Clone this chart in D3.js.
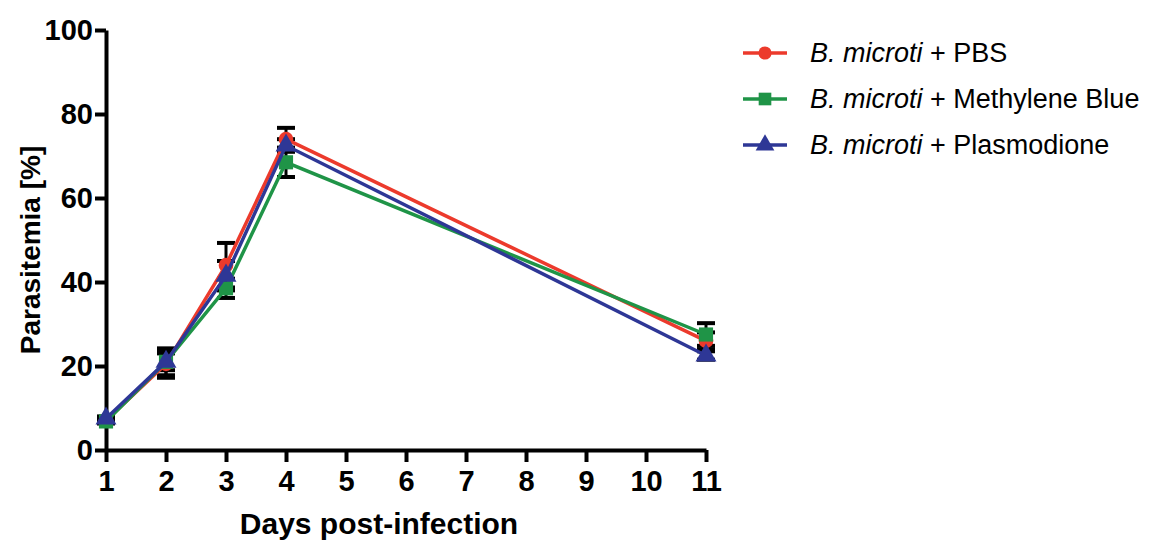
<!DOCTYPE html>
<html>
<head>
<meta charset="utf-8">
<script src="https://cdn.jsdelivr.net/npm/d3@7"></script>
<style>
  body { margin: 0; background: #fff; }
  svg { font-family: "Liberation Sans", Arial, sans-serif; }
</style>
</head>
<body>
<div id="chart"></div>
<script>
// Parasitemia over time, three treatment groups
const days = [1, 2, 3, 4, 11];
const xTicks = [1, 2, 3, 4, 5, 6, 7, 8, 9, 10, 11];
const yTicks = [0, 20, 40, 60, 80, 100];

const pbsMean = [7, 20.5, 44, 74, 26];
const pbsErr  = [0.5, 3.3, 5.3, 2.7, 2];
const mbMean  = [6.8, 21, 38.5, 68.5, 27.5];
const mbErr   = [0.5, 3.2, 2.3, 3.5, 2.7];
const plMean  = [7.5, 21, 41.5, 72.5, 22.5];
const plErr   = [0.5, 2, 3.5, 1.5, 1];

const seriesNames = ["PBS", "Methylene Blue", "Plasmodione"];
const seriesColors = ["#ec3a2c", "#1f9447", "#2e3796"];
const seriesSymbols = [d3.symbolCircle, d3.symbolSquare, d3.symbolTriangle];

const series = [
  {name: seriesNames[0], mean: pbsMean, err: pbsErr, color: seriesColors[0], sym: seriesSymbols[0], size: 170},
  {name: seriesNames[1], mean: mbMean, err: mbErr, color: seriesColors[1], sym: seriesSymbols[1], size: 200},
  {name: seriesNames[2], mean: plMean, err: plErr, color: seriesColors[2], sym: seriesSymbols[2], size: 190}
];

const W = 1151, H = 540;

const svg = d3.select("#chart")
  .append("svg")
  .attr("width", W)
  .attr("height", H);

const x = d3.scaleLinear().domain([1, 11]).range([106, 706]);
const y = d3.scaleLinear().domain([0, 100]).range([450, 30]);

// axes
const yAxis = svg.append("g")
  .attr("transform", "translate(106,0)")
  .call(d3.axisLeft(y).tickValues(yTicks).tickSize(11).tickSizeOuter(0).tickPadding(2));
yAxis.select(".domain").attr("stroke-width", 4).attr("stroke", "#000");
yAxis.selectAll(".tick line").attr("stroke-width", 4);
yAxis.selectAll("text")
  .style("font-size", "29px")
  .style("font-weight", "bold")
  .attr("fill", "#000");

const xAxis = svg.append("g")
  .attr("transform", "translate(0,450)")
  .call(d3.axisBottom(x).tickValues(xTicks).tickSize(12).tickSizeOuter(0).tickPadding(8));
xAxis.select(".domain").attr("stroke-width", 4).attr("stroke", "#000");
xAxis.selectAll(".tick line").attr("stroke-width", 4);
xAxis.selectAll("text")
  .style("font-size", "29px")
  .style("font-weight", "bold")
  .attr("fill", "#000");

// axis titles
svg.append("text")
  .attr("x", 379)
  .attr("y", 534)
  .attr("text-anchor", "middle")
  .style("font-size", "30px")
  .style("font-weight", "bold")
  .text("Days post-infection");

svg.append("text")
  .attr("transform", "translate(40,250) rotate(-90)")
  .attr("text-anchor", "middle")
  .style("font-size", "28px")
  .style("font-weight", "bold")
  .text("Parasitemia [%]");

// error bars
series.forEach(s => {
  const g = svg.append("g");
  days.forEach((d, i) => {
    const cx = x(d);
    const top = y(s.mean[i] + s.err[i]);
    const bot = y(s.mean[i] - s.err[i]);
    g.append("line").attr("x1", cx).attr("x2", cx).attr("y1", top).attr("y2", bot)
      .attr("stroke", "#000").attr("stroke-width", 3);
    [top, bot].forEach(yy => {
      g.append("line").attr("x1", cx - 9).attr("x2", cx + 9).attr("y1", yy).attr("y2", yy)
        .attr("stroke", "#000").attr("stroke-width", 4);
    });
  });
});

// lines and markers
const line = d3.line().x((d, i) => x(days[i])).y(d => y(d));
series.forEach(s => {
  svg.append("path")
    .datum(s.mean)
    .attr("d", line)
    .attr("fill", "none")
    .attr("stroke", s.color)
    .attr("stroke-width", 3.5);
  svg.append("g")
    .selectAll("path")
    .data(s.mean)
    .join("path")
    .attr("transform", (d, i) => `translate(${x(days[i])},${y(d)})`)
    .attr("d", d3.symbol().type(s.sym).size(s.size))
    .attr("fill", s.color);
});

// legend
const legend = svg.append("g");
series.forEach((s, i) => {
  const ly = 53 + i * 46;
  legend.append("line")
    .attr("x1", 743).attr("x2", 787).attr("y1", ly).attr("y2", ly)
    .attr("stroke", s.color).attr("stroke-width", 3.5);
  legend.append("path")
    .attr("transform", `translate(765,${ly})`)
    .attr("d", d3.symbol().type(s.sym).size(s.size * 0.8))
    .attr("fill", s.color);
  const t = legend.append("text")
    .attr("x", 810)
    .attr("y", ly + 9)
    .style("font-size", "27px");
  t.append("tspan").style("font-style", "italic").text("B. microti");
  t.append("tspan").text(" + " + s.name);
});
</script>
</body>
</html>
